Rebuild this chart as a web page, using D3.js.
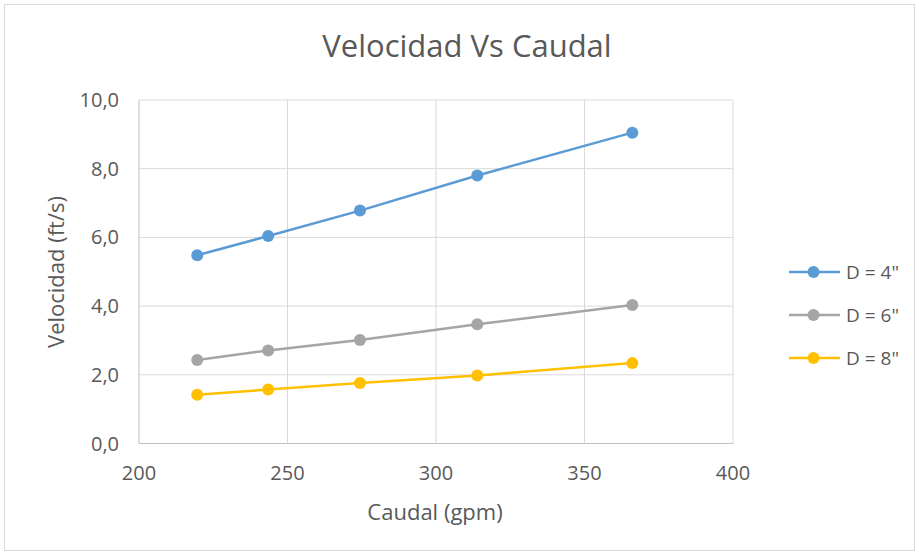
<!DOCTYPE html>
<html>
<head>
<meta charset="utf-8">
<script src="https://cdn.jsdelivr.net/npm/d3@7"></script>
<style>
  body { margin: 0; background: #fff; }
  text { font-family: "Open Sans", "Liberation Sans", sans-serif; fill: #595959; }
</style>
</head>
<body>
<svg id="chart"></svg>
<script>
const width = 919;
const height = 555;

// caudal (gpm) and velocidad (ft/s)
const caudal = [219.6, 243.5, 274.4, 313.9, 366.1];
const seriesNames = ['D = 4"', 'D = 6"', 'D = 8"'];
const vel4 = [5.48, 6.04, 6.78, 7.80, 9.05];
const vel6 = [2.43, 2.71, 3.01, 3.47, 4.03];
const vel8 = [1.42, 1.57, 1.76, 1.98, 2.34];
const xTicks = [200, 250, 300, 350, 400];
const yTicks = [0, 2, 4, 6, 8, 10];

const colors = ['#5B9BD5', '#A5A5A5', '#FFC000'];
const series = [vel4, vel6, vel8];

const svg = d3.select('#chart')
            .attr('width', width)
            .attr('height', height);

svg.append('rect')
   .attr('x', 4.5).attr('y', 4.5)
   .attr('width', width - 9).attr('height', height - 9)
   .attr('fill', '#fff')
   .attr('stroke', '#D9D9D9');

const x = d3.scaleLinear().domain([200, 400]).range([139, 733]);
const y = d3.scaleLinear().domain([0, 10]).range([443.5, 100]);

// gridlines
svg.append('g').selectAll('line')
   .data(yTicks.slice(1))
   .enter().append('line')
   .attr('x1', x(200)).attr('x2', x(400))
   .attr('y1', d => y(d)).attr('y2', d => y(d))
   .attr('stroke', '#D9D9D9').attr('stroke-width', 1);

svg.append('g').selectAll('line')
   .data(xTicks.slice(1))
   .enter().append('line')
   .attr('x1', d => x(d)).attr('x2', d => x(d))
   .attr('y1', y(0)).attr('y2', y(10))
   .attr('stroke', '#D9D9D9').attr('stroke-width', 1);

// axes lines
svg.append('line')
   .attr('x1', x(200)).attr('x2', x(400))
   .attr('y1', y(0)).attr('y2', y(0))
   .attr('stroke', '#BFBFBF');
svg.append('line')
   .attr('x1', x(200)).attr('x2', x(200))
   .attr('y1', y(0)).attr('y2', y(10))
   .attr('stroke', '#BFBFBF');

// tick labels
const fmt = d => d3.format('.1f')(d).replace('.', ',');
svg.append('g').selectAll('text')
   .data(yTicks)
   .enter().append('text')
   .attr('x', 119).attr('y', d => y(d) + 7)
   .attr('text-anchor', 'end')
   .attr('font-size', 20)
   .text(fmt);

svg.append('g').selectAll('text')
   .data(xTicks)
   .enter().append('text')
   .attr('x', d => x(d)).attr('y', 480)
   .attr('text-anchor', 'middle')
   .attr('font-size', 20)
   .text(d => d);

// titles
svg.append('text')
   .attr('x', 467).attr('y', 57)
   .attr('text-anchor', 'middle')
   .attr('font-size', 31)
   .text('Velocidad Vs Caudal');

svg.append('text')
   .attr('x', 435).attr('y', 520)
   .attr('text-anchor', 'middle')
   .attr('font-size', 22)
   .text('Caudal (gpm)');

svg.append('text')
   .attr('transform', `translate(64, 272) rotate(-90)`)
   .attr('text-anchor', 'middle')
   .attr('font-size', 22)
   .text('Velocidad (ft/s)');

// lines and markers
const line = d3.line()
   .x((d, i) => x(caudal[i]))
   .y(d => y(d));

series.forEach((vals, k) => {
    svg.append('path')
       .datum(vals)
       .attr('d', line)
       .attr('fill', 'none')
       .attr('stroke', colors[k])
       .attr('stroke-width', 2.5);

    svg.append('g').selectAll('circle')
       .data(vals)
       .enter().append('circle')
       .attr('cx', (d, i) => x(caudal[i]))
       .attr('cy', d => y(d))
       .attr('r', 6)
       .attr('fill', colors[k]);
});

// legend
const legend = svg.append('g');
seriesNames.forEach((name, k) => {
    const ly = 272 + k * 43;
    legend.append('line')
          .attr('x1', 789).attr('x2', 840)
          .attr('y1', ly).attr('y2', ly)
          .attr('stroke', colors[k]).attr('stroke-width', 2.5);
    legend.append('circle')
          .attr('cx', 813.5).attr('cy', ly).attr('r', 6)
          .attr('fill', colors[k]);
    legend.append('text')
          .attr('x', 846).attr('y', ly + 7)
          .attr('font-size', 19)
          .text(name);
});
</script>
</body>
</html>
